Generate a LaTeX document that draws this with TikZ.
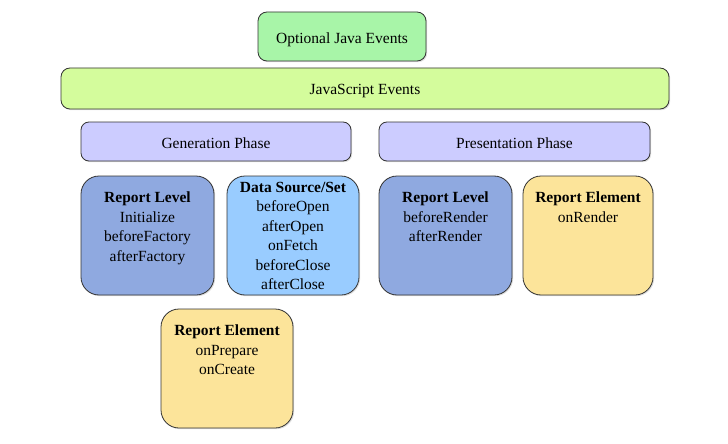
\documentclass[tikz,border=0pt]{standalone}
\usepackage{fontspec}
\setmainfont{Liberation Serif}
\usetikzlibrary{shadows}
\definecolor{cjava}{HTML}{A8F5A8}
\definecolor{cjs}{HTML}{D4FC9C}
\definecolor{cphase}{HTML}{CCCCFF}
\definecolor{clevel}{HTML}{8FA9E0}
\definecolor{cdata}{HTML}{99CCFF}
\definecolor{celem}{HTML}{FCE49A}
\definecolor{cedge}{HTML}{333333}
\tikzset{
  box/.style={draw=cedge, line width=0.8pt, rectangle, inner sep=0pt,
    drop shadow={opacity=0.25, shadow xshift=1.2pt, shadow yshift=-1.2pt}},
  txt/.style={font=\fontsize{15.5}{19.5}\selectfont, text=black, align=center, inner sep=0pt},
}
\newcommand{\mybox}[7]{% name, x1, y1, x2, y2, fill, radius
  \node[box, fill=#6, rounded corners=#7, minimum width=#4pt-#2pt, minimum height=#5pt-#3pt]
    (#1) at ({(#2+#4)/2}, {(#3+#5)/2}) {};}
\begin{document}
\begin{tikzpicture}[x=1pt, y=-1pt]
\useasboundingbox (0,0) rectangle (728,444);
\fill[white] (0,0) rectangle (728,444);

\mybox{java}{258}{12}{426}{61}{cjava}{9pt}
\node[txt] (javat) at ([yshift=-3pt]java.center) {Optional Java Events};

\mybox{js}{61}{68}{669}{109}{cjs}{9pt}
\node[txt] (jst) at ([yshift=-3pt]js.center) {JavaScript Events};

\mybox{gen}{81}{122}{351}{161}{cphase}{8pt}
\node[txt] (gent) at ([yshift=-1.5pt]gen.center) {Generation Phase};

\mybox{pres}{379}{122}{650}{161}{cphase}{8pt}
\node[txt] (prest) at ([yshift=-1.5pt]pres.center) {Presentation Phase};

\mybox{glevel}{81}{176}{214}{295}{clevel}{18pt}
\node[txt, anchor=north] (glevelt) at (147.5,192) {\textbf{Report Level}\\Initialize\\beforeFactory\\afterFactory};

\mybox{gdata}{227}{176}{359}{295}{cdata}{18pt}
\node[txt, anchor=north] (gdatat) at (293,182) {\textbf{Data Source/Set}\\beforeOpen\\afterOpen\\onFetch\\beforeClose\\afterClose};

\mybox{plevel}{379}{176}{512}{295}{clevel}{18pt}
\node[txt, anchor=north] (plevelt) at (445.5,192) {\textbf{Report Level}\\beforeRender\\afterRender};

\mybox{pelem}{523}{176}{653}{295}{celem}{18pt}
\node[txt, anchor=north] (pelemt) at (588,192) {\textbf{Report Element}\\onRender};

\mybox{gelem}{161}{309}{293}{428}{celem}{18pt}
\node[txt, anchor=north] (gelemt) at (227,325) {\textbf{Report Element}\\onPrepare\\onCreate};
\end{tikzpicture}
\end{document}
